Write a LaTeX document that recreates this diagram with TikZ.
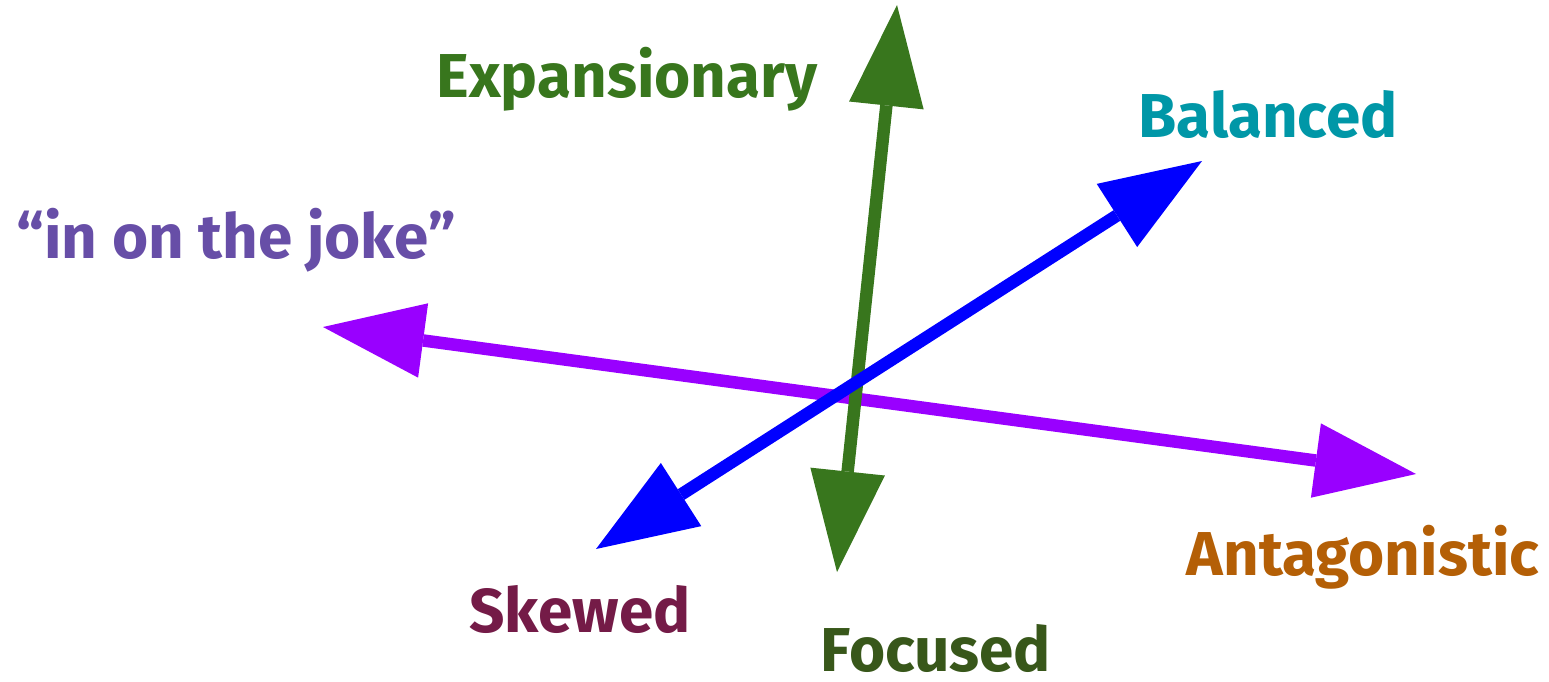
\documentclass[tikz,border=0pt]{standalone}
\usepackage{fontspec}
\setmainfont{Fira Sans}
\usetikzlibrary{arrows.meta}
\definecolor{lgreen}{HTML}{38761D}
\definecolor{dgreen}{HTML}{38571A}
\definecolor{ltxt}{HTML}{674EA7}
\definecolor{teal}{HTML}{0097A7}
\definecolor{orng}{HTML}{B45F06}
\definecolor{maroon}{HTML}{741B47}
\definecolor{vline}{HTML}{9900FF}
\definecolor{bline}{HTML}{0000FF}
\tikzset{
  axis/.style={line width=12.5pt, {Triangle[length=101pt,width=75pt,line width=0pt]}-{Triangle[length=101pt,width=75pt,line width=0pt]}},
  lbl/.style={anchor=base, inner sep=0pt, text depth=0pt, font=\fontsize{62pt}{64pt}\selectfont\bfseries}
}
\begin{document}
\begin{tikzpicture}[x=1pt,y=-1pt]
\useasboundingbox (0,0) rectangle (1549,681);
\coordinate (pL) at (323,327);
\coordinate (pR) at (1416,474);
\coordinate (gB) at (837,572);
\coordinate (gT) at (897,5);
\coordinate (bB) at (596,549);
\coordinate (bT) at (1202,161);
\draw[axis, vline] (pL) -- (pR);
\draw[axis, lgreen] (gB) -- (gT);
\draw[axis, bline] (bB) -- (bT);
\node[lbl, text=lgreen] (exp) at (627,97) {Expansionary};
\node[lbl, text=ltxt] (joke) at (236,258) {“in on the joke”};
\node[lbl, text=teal] (bal) at (1268,137) {Balanced};
\node[lbl, text=orng] (ant) at (1363,575) {Antagonistic};
\node[lbl, text=maroon] (skw) at (580,632) {Skewed};
\node[lbl, text=dgreen] (foc) at (936,671) {Focused};
\end{tikzpicture}
\end{document}
